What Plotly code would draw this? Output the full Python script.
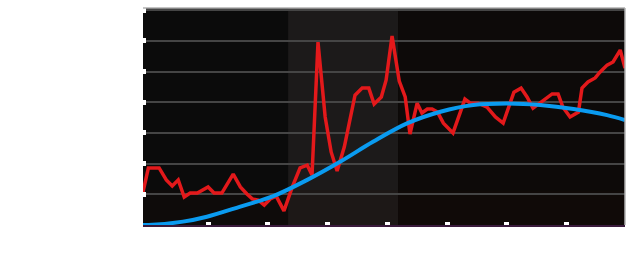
import plotly.graph_objects as go

# Red series (observed values)
red_x = [-0.9, 0.0, 1.8, 3.0, 4.0, 5.0, 6.0, 7.0, 8.2, 10.0, 11.0, 12.3, 14.2, 15.4, 16.5, 17.4,
         18.4, 19.4, 20.4, 21.4, 22.7, 24.1, 25.4, 26.6, 27.4, 28.4, 29.6, 30.6, 31.6, 32.8,
         34.6, 35.8, 36.9, 37.8, 39.0, 39.8, 40.8, 42.0, 43.0, 43.8, 45.0, 45.8, 46.7, 47.5,
         48.4, 49.4, 51.0, 51.9, 53.0, 53.9, 55.2, 56.7, 58.1, 59.4, 61.2, 62.4, 63.4, 64.4,
         65.9, 67.6, 68.6, 69.4, 70.6, 72.0, 72.6, 73.6, 74.8, 75.6, 76.8, 77.8, 79.0, 79.8]
red_y = [1.07, 1.86, 1.86, 1.47, 1.27, 1.47, 0.91, 1.04, 1.04, 1.24, 1.04, 1.04, 1.66, 1.24, 1.01, 0.85,
         0.81, 0.65, 0.85, 0.94, 0.46, 1.24, 1.86, 1.95, 1.63, 5.96, 3.52, 2.38, 1.76, 2.54,
         4.23, 4.46, 4.46, 3.94, 4.17, 4.72, 6.16, 4.69, 4.17, 2.96, 3.97, 3.65, 3.78, 3.78,
         3.68, 3.32, 3.00, 3.52, 4.10, 3.97, 3.97, 3.84, 3.52, 3.32, 4.33, 4.46, 4.17, 3.81,
         4.01, 4.27, 4.27, 3.84, 3.52, 3.68, 4.46, 4.66, 4.79, 4.98, 5.21, 5.31, 5.70, 5.11]

# Blue smooth trend
blue_x = [-1.0, 0.0, 5.8, 9.8, 15.4, 20.9, 26.6, 32.1, 37.6, 43.3, 48.9, 54.4, 60.1, 65.6, 71.2, 76.8, 79.8]
blue_y = [0.0, 0.0, 0.11, 0.27, 0.60, 0.94, 1.47, 2.06, 2.71, 3.31, 3.69, 3.91, 3.96, 3.91, 3.78, 3.58, 3.42]

# Shaded periods
period_edges = [-0.9, 23.4, 41.8, 79.8]
period_colors = ["#0b0b0b", "#1c1a1a", "#0d0a09"]

x_ticks = [10, 20, 30, 40, 50, 60, 70]
y_ticks = [0, 1, 2, 3, 4, 5, 6, 7]

fig = go.Figure()
fig.add_trace(go.Scatter(x=red_x, y=red_y, mode="lines",
                         line=dict(color="#e3191b", width=3.5), showlegend=False))
fig.add_trace(go.Scatter(x=blue_x, y=blue_y, mode="lines", line_shape="spline",
                         line=dict(color="#0a9bf0", width=4), showlegend=False))

shapes = []
for i, c in enumerate(period_colors):
    shapes.append(dict(type="rect", xref="x", yref="paper", x0=period_edges[i], x1=period_edges[i + 1],
                       y0=0, y1=1, fillcolor=c, line=dict(width=0), layer="below"))
# lower brownish tint band
shapes.append(dict(type="rect", xref="paper", yref="paper", x0=0, x1=1, y0=0, y1=0.16,
                   fillcolor="rgba(40,20,10,0.12)", line=dict(width=0), layer="below"))
shapes.append(dict(type="line", xref="paper", yref="paper", x0=0, x1=1, y0=1, y1=1,
                   line=dict(color="#b0b0b0", width=1.5)))
shapes.append(dict(type="line", xref="paper", yref="paper", x0=1, x1=1, y0=0, y1=1,
                   line=dict(color="#b0b0b0", width=1.5)))

fig.update_layout(
    width=640, height=269,
    margin=dict(l=143, r=15, t=8, b=44),
    paper_bgcolor="white",
    plot_bgcolor="#0b0b0b",
    shapes=shapes,
    xaxis=dict(range=[-0.9, 79.8], tickvals=x_ticks, ticks="inside", ticklen=3, tickwidth=5,
               tickcolor="white", showticklabels=False, showgrid=False, zeroline=False,
               showline=True, linecolor="#3a1a3c", linewidth=1.5),
    yaxis=dict(range=[0, 7.07], tickvals=y_ticks, ticks="inside", ticklen=3, tickwidth=5,
               tickcolor="white", showticklabels=False, showgrid=True, gridcolor="#454545",
               gridwidth=1.5, zeroline=False, showline=False),
)

fig.write_html("out.html")
